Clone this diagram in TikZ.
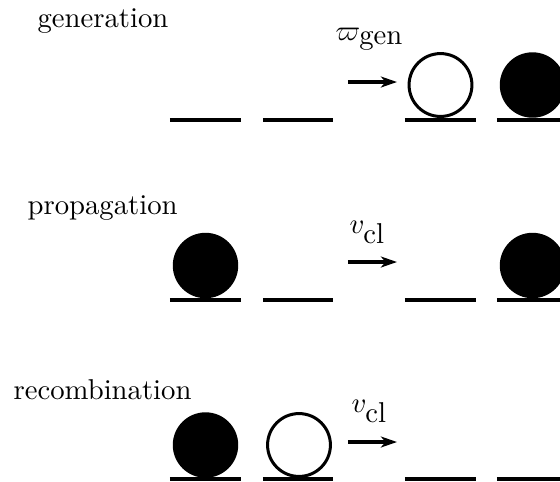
\documentclass[tikz,border=0pt]{standalone}
\usetikzlibrary{arrows.meta}
\begin{document}
\begin{tikzpicture}[x=0.3484pt,y=-0.3484pt,
  slot/.style={line width=1.39pt},
  full/.style={circle,fill=black,inner sep=0pt,minimum size=22.8pt},
  empty/.style={circle,draw=black,line width=1.05pt,fill=white,inner sep=0pt,minimum size=21.9pt},
  arr/.style={line width=1.2pt,-{Stealth[length=5.6pt,width=3.8pt,inset=1.6pt]}},
  title/.style={anchor=base west,inner sep=0pt},
  lab/.style={anchor=base west,inner sep=0pt}]
\useasboundingbox (0,0) rectangle (560,481);
% row titles
\node[title] (t1) at (37,27) {generation};
\node[title] (t2) at (27,214) {propagation};
\node[title] (t3) at (13,399) {recombination};
% slots
\foreach \y in {119.5,300,479}{
  \draw[slot] (170,\y) -- (241,\y);
  \draw[slot] (263,\y) -- (333,\y);
  \draw[slot] (405,\y) -- (476,\y);
  \draw[slot] (497,\y) -- (568,\y);
}
% row 1
\node[empty] (g3) at (440.5,85) {};
\node[full] (g4) at (532.5,85) {};
\coordinate (a1s) at (348,82);
\coordinate (a1e) at (397,82);
\draw[arr] (a1s) -- (a1e);
\node[lab] (l1) at (335,40) {$\varpi_{\textstyle\mathrm{gen}}$};
% row 2
\node[full] (p1) at (205.5,265.5) {};
\node[full] (p4) at (532.5,265.5) {};
\coordinate (a2s) at (348,262);
\coordinate (a2e) at (397,262);
\draw[arr] (a2s) -- (a2e);
\node[lab] (l2) at (349,233) {$v_{\textstyle\mathrm{cl}}$};
% row 3
\node[full] (r1) at (205.5,445) {};
\node[empty] (r2) at (299,445) {};
\coordinate (a3s) at (348,442);
\coordinate (a3e) at (397,442);
\draw[arr] (a3s) -- (a3e);
\node[lab] (l3) at (351,412) {$v_{\textstyle\mathrm{cl}}$};
\end{tikzpicture}
\end{document}
